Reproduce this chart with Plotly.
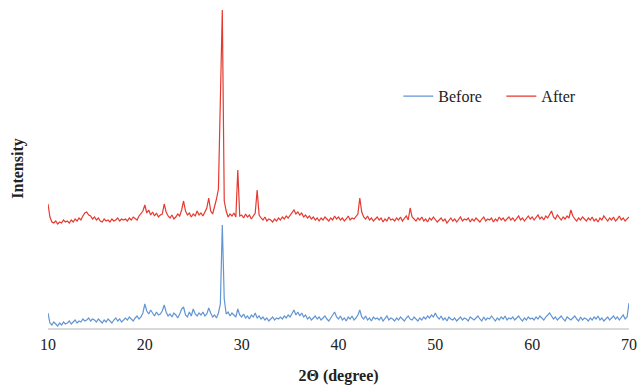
import numpy as np
import plotly.graph_objects as go

two_theta_start = 10.0
two_theta_step = 0.2

after_intensity = [
    125, 112, 107, 106, 108, 105, 107, 106, 109, 107,
    108, 106, 109, 107, 110, 108, 111, 109, 113, 116,
    117, 114, 113, 110, 112, 109, 111, 108, 107, 110,
    108, 109, 107, 110, 108, 109, 111, 108, 110, 109,
    110, 108, 111, 109, 112, 110, 109, 113, 115, 118,
    124, 116, 119, 114, 117, 113, 116, 112, 114, 115,
    125, 117, 113, 111, 114, 110, 112, 115, 113, 119,
    128, 118, 114, 116, 112, 115, 113, 118, 114, 116,
    113, 117, 121, 131, 118, 115, 122, 130, 140, 224,
    319, 128, 118, 112, 115, 113, 116, 112, 159, 113,
    114, 111, 115, 112, 114, 110, 113, 116, 139, 114,
    111, 109, 112, 108, 110, 109, 107, 110, 108, 111,
    109, 112, 110, 113, 111, 114, 116, 119, 115, 117,
    114, 116, 112, 114, 111, 113, 110, 112, 109, 111,
    108, 111, 109, 112, 110, 108, 111, 109, 113, 110,
    112, 109, 111, 108, 110, 113, 109, 111, 110, 112,
    115, 131, 117, 112, 110, 113, 109, 111, 108, 110,
    112, 109, 111, 107, 110, 108, 112, 109, 110, 108,
    111, 109, 112, 108, 110, 113, 109, 121, 112, 110,
    108, 111, 109, 112, 108, 110, 107, 111, 109, 112,
    110, 107, 109, 111, 108, 110, 106, 109, 111, 108,
    110, 107, 109, 112, 108, 110, 109, 111, 107, 110,
    108, 111, 109, 107, 110, 112, 108, 110, 109, 111,
    107, 110, 108, 112, 109, 111, 108, 110, 112, 109,
    111, 108, 110, 113, 109, 111, 108, 110, 113, 110,
    112, 109, 111, 114, 110, 112, 109, 113, 111, 115,
    118, 112, 110, 114, 111, 109, 112, 110, 113, 111,
    119, 113, 110, 108, 111, 109, 112, 110, 108, 111,
    109, 112, 108, 110, 107, 111, 109, 113, 110, 108,
    111, 109, 112, 108, 110, 113, 109, 111, 108, 110,
    112,
]

before_intensity = [
    16, 6, 4, 7, 5, 3, 6, 4, 7, 5,
    6, 8, 5, 7, 9, 6, 8, 7, 10, 8,
    9, 11, 8, 10, 9, 7, 10, 8, 6, 9,
    7, 10, 8, 6, 9, 11, 8, 10, 7, 9,
    11, 9, 12, 10, 8, 11, 13, 10, 12, 16,
    25, 18, 15, 19, 16, 13, 17, 14, 15, 18,
    24, 17, 13, 15, 12, 16, 14, 11, 15, 20,
    22, 14, 12, 17, 13, 20, 15, 13, 16, 14,
    17, 13, 15, 21, 16, 12, 14, 11, 16, 25,
    104, 30, 15, 17, 13, 16, 14, 12, 20, 14,
    12, 15, 11, 13, 10, 14, 12, 16, 11, 13,
    10, 12, 9, 11, 8, 10, 12, 9, 11, 10,
    12, 10, 13, 11, 14, 12, 16, 19, 14, 17,
    13, 16, 12, 14, 10, 12, 9, 11, 13, 10,
    12, 9, 11, 13, 10, 8, 11, 14, 17, 12,
    10, 13, 9, 11, 8, 12, 10, 13, 9, 11,
    14, 19, 12, 10, 13, 9, 11, 8, 12, 10,
    11, 9, 12, 8, 10, 13, 9, 11, 10, 8,
    11, 9, 12, 10, 8, 11, 13, 10, 9, 12,
    10, 8, 11, 9, 12, 10, 13, 11, 14, 12,
    16, 12, 10, 13, 9, 11, 8, 12, 10, 9,
    11, 8, 10, 12, 9, 11, 10, 8, 12, 10,
    9, 11, 13, 10, 8, 12, 9, 11, 10, 13,
    10, 8, 11, 9, 12, 10, 13, 9, 11, 10,
    12, 9, 11, 13, 10, 8, 11, 9, 12, 10,
    11, 9, 12, 10, 13, 11, 9, 12, 14, 16,
    13, 10, 12, 9, 11, 13, 10, 8, 12, 10,
    9, 11, 13, 10, 8, 12, 9, 11, 10, 8,
    11, 9, 12, 10, 13, 9, 11, 8, 10, 12,
    9, 11, 13, 10, 12, 9, 11, 14, 10, 12,
    26,
]

x_ticks = [10, 20, 30, 40, 50, 60, 70]

two_theta = np.round(two_theta_start + two_theta_step * np.arange(len(after_intensity)), 2)

fig = go.Figure()
fig.add_trace(go.Scatter(x=two_theta, y=before_intensity, mode="lines", name="Before",
                         line=dict(color="#6395D3", width=1.2)))
fig.add_trace(go.Scatter(x=two_theta, y=after_intensity, mode="lines", name="After",
                         line=dict(color="#E6392F", width=1.2)))

serif = "Liberation Serif, Times New Roman, serif"
fig.update_layout(
    width=640, height=385,
    margin=dict(l=48, r=11, t=8, b=56),
    paper_bgcolor="white", plot_bgcolor="white",
    font=dict(family=serif, color="#222222", size=16),
    showlegend=True,
    legend=dict(orientation="h", x=0.603, y=0.725, xanchor="left", yanchor="middle",
                font=dict(family=serif, size=16, color="#222222"),
                entrywidth=58, entrywidthmode="pixels",
                bgcolor="rgba(0,0,0,0)", tracegroupgap=0),
    xaxis=dict(range=[10, 70], tickvals=x_ticks, ticktext=[str(t) for t in x_ticks],
               showgrid=False, zeroline=False, showline=False, ticks="",
               automargin=False, ticklabelstandoff=4,
               tickfont=dict(family=serif, size=16, color="#222222"),
               title=dict(text="<b>2Θ (degree)</b>", font=dict(family=serif, size=16), standoff=17)),
    yaxis=dict(range=[0, 321], showticklabels=False, showgrid=False, zeroline=True,
               zerolinecolor="#D9D9D9", zerolinewidth=1.5, showline=False, ticks="",
               automargin=False,
               title=dict(text="<b>Intensity</b>", font=dict(family=serif, size=16), standoff=19)),
)

fig.write_html("out.html")
